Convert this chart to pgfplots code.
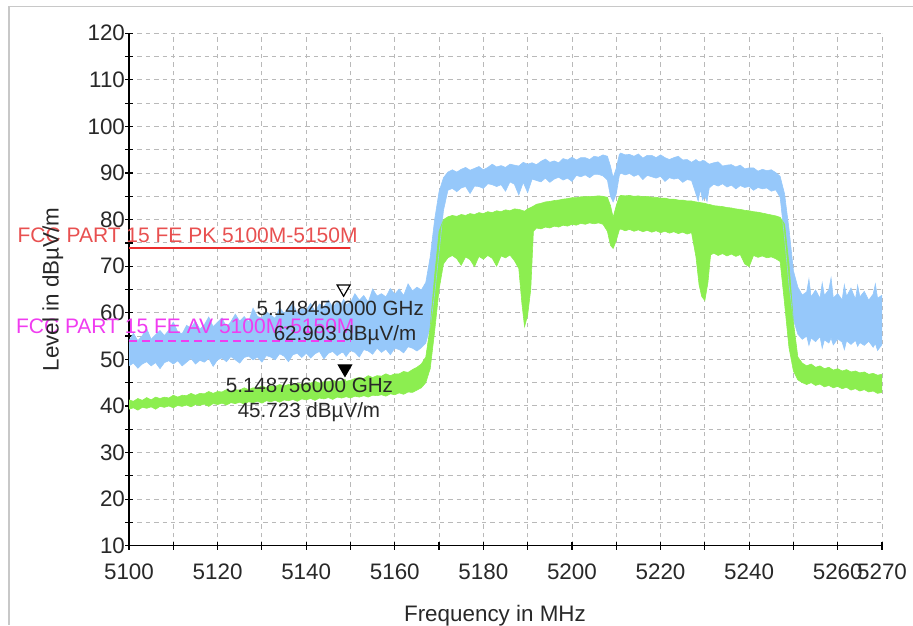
\documentclass[border=0pt]{standalone}
\usepackage{fontspec}
\setmainfont{Liberation Sans}
\usepackage{pgfplots}
\pgfplotsset{compat=1.18}
\usepackage{pgfplotstable}
\usepgfplotslibrary{fillbetween}

\definecolor{pkblue}{RGB}{150,200,250}
\definecolor{avgreen}{RGB}{140,238,80}
\definecolor{limred}{RGB}{235,45,45}
\definecolor{limredtxt}{RGB}{232,80,80}
\definecolor{limmag}{RGB}{240,60,240}
\definecolor{gridgray}{RGB}{185,185,185}
\definecolor{framegray}{RGB}{200,200,200}
\definecolor{tickgray}{RGB}{40,40,40}

% Peak trace (blue): x, lower edge, upper edge of the noise band
\pgfplotstableread{
x lo hi
5100 48.6 54.0
5101 49.2 55.6
5102 48.1 54.0
5103 49.0 55.1
5104 49.5 56.6
5105 48.6 54.3
5106 49.3 55.3
5107 48.0 56.2
5108 49.3 55.1
5109 49.7 56.3
5110 49.0 58.0
5111 49.7 55.9
5112 48.6 55.5
5113 49.4 57.3
5114 50.2 56.7
5115 49.0 58.2
5116 49.8 56.5
5117 49.4 57.4
5118 50.2 59.1
5119 48.5 57.0
5120 49.9 58.0
5121 50.3 58.9
5122 49.5 56.9
5123 50.6 58.1
5124 49.9 59.7
5125 49.2 58.2
5126 50.4 59.2
5127 50.7 58.0
5128 49.9 61.0
5129 50.5 59.2
5130 49.4 58.9
5131 50.8 60.3
5132 50.5 59.5
5133 49.9 58.8
5134 51.2 61.1
5135 50.7 59.9
5136 49.5 60.7
5137 51.0 61.9
5138 51.3 59.9
5139 50.4 61.0
5140 51.3 60.6
5141 50.3 62.0
5142 51.2 60.3
5143 51.7 61.9
5144 50.1 61.3
5145 51.3 62.7
5146 51.7 61.2
5147 50.8 62.3
5148 51.5 62.0
5148.45 51.4 62.9
5149 50.6 61.8
5150 51.9 62.2
5151 51.5 64.1
5152 50.5 62.7
5153 52.1 63.7
5154 51.8 62.3
5155 51.1 65.1
5156 52.4 63.6
5157 51.5 64.1
5158 52.2 63.4
5159 51.0 65.2
5160 52.4 64.0
5161 52.1 65.1
5162 51.4 63.7
5163 52.7 66.2
5164 52.4 64.7
5165 51.8 65.5
5166 52.5 64.9
5167 53.5 66.5
5168 57.0 72.0
5169 64.0 80.0
5170 73.0 86.0
5171 82.0 89.0
5172 86.3 90.2
5173 86.7 90.7
5174 86.0 90.2
5175 86.8 90.8
5176 87.1 91.2
5177 85.6 90.6
5178 87.2 91.0
5179 87.1 91.4
5180 86.7 90.7
5181 87.7 91.2
5182 87.5 91.9
5183 87.1 91.3
5184 87.5 91.6
5185 86.1 91.2
5186 88.1 91.9
5187 87.6 91.7
5188 85.3 91.5
5189 88.0 92.3
5190 85.8 91.9
5191 88.7 92.2
5192 88.4 91.8
5193 88.1 92.5
5194 88.9 93.0
5195 88.0 92.3
5196 88.7 92.6
5197 89.1 92.2
5198 88.5 93.1
5199 88.9 92.8
5200 88.2 93.4
5201 89.5 92.8
5202 89.2 93.3
5203 89.6 93.3
5204 89.0 92.9
5205 89.7 93.6
5206 89.7 93.4
5207 89.4 93.9
5208 88.5 93.6
5208.7 85.0 91.5
5209.3 83.8 89.0
5210 85.5 91.0
5210.7 89.5 94.0
5211 90.0 94.3
5212 89.6 93.9
5213 89.9 94.0
5214 89.3 93.6
5215 89.7 94.1
5216 88.6 93.2
5217 89.5 93.8
5218 89.2 93.8
5219 88.9 93.3
5220 89.3 93.9
5221 88.2 93.3
5222 89.0 92.9
5223 88.7 93.3
5224 88.9 93.6
5225 88.0 92.8
5226 88.6 92.9
5227 88.4 92.3
5228 85.5 92.9
5228.5 84.0 92.5
5229 86.5 92.4
5229.5 84.2 92.7
5230 85.0 92.6
5230.5 83.9 92.2
5231 86.8 91.9
5232 87.6 92.2
5233 87.2 92.4
5234 87.7 91.5
5235 87.0 91.7
5236 87.4 91.8
5237 86.6 91.3
5238 87.3 91.7
5239 86.9 90.9
5240 87.1 91.1
5241 86.3 91.1
5242 86.9 90.4
5243 86.6 90.8
5244 86.8 90.5
5245 86.1 90.7
5246 86.4 90.1
5247 84.8 89.3
5248 76.0 85.5
5249 66.0 78.0
5250 58.5 69.0
5251 55.4 65.5
5252 54.3 63.8
5253 55.0 64.5
5253.5 53.0 67.2
5254 54.6 63.4
5255 53.8 64.9
5256 54.9 63.1
5256.5 52.4 66.4
5257 54.2 63.7
5258 53.5 65.0
5258.5 54.6 67.5
5259 53.1 63.2
5260 54.4 64.1
5261 53.7 62.8
5261.5 52.1 66.0
5262 54.0 63.5
5263 53.2 65.3
5264 54.1 62.9
5264.5 52.8 65.9
5265 53.6 63.4
5266 53.0 64.6
5267 53.9 62.7
5268 52.6 64.0
5268.5 53.4 66.2
5269 51.9 63.1
5270 53.2 63.8
}\pkdata

% Average trace (green): x, lower edge, upper edge of the noise band
\pgfplotstableread{
x lo hi
5100 39.3 41.3
5101 39.6 41.0
5102 39.1 41.6
5103 39.7 41.2
5104 39.5 41.8
5105 39.8 41.3
5106 39.3 41.9
5107 39.9 41.6
5108 39.7 41.9
5109 40.0 41.7
5110 39.6 42.3
5111 40.1 41.9
5112 39.9 42.3
5113 40.2 42.2
5114 39.8 42.7
5115 40.3 42.3
5116 40.1 42.7
5117 40.4 42.6
5118 39.9 43.1
5119 40.5 42.7
5120 40.3 43.1
5121 40.6 43.0
5122 40.2 43.5
5123 40.7 43.1
5124 40.5 43.5
5125 40.8 43.4
5126 40.4 43.9
5127 40.9 43.5
5128 40.7 43.9
5129 41.0 43.8
5130 40.6 44.3
5131 41.1 43.9
5132 40.9 44.3
5133 41.2 44.2
5134 40.8 44.6
5135 41.3 44.3
5136 41.1 44.6
5137 41.4 44.5
5138 41.0 44.9
5139 41.5 44.6
5140 41.3 44.9
5141 41.6 44.9
5142 41.2 45.3
5143 41.7 44.9
5144 41.5 45.2
5145 41.8 45.2
5146 41.4 45.5
5147 41.9 45.2
5148 41.7 45.4
5148.756 41.9 45.723
5149 42.0 45.3
5150 41.7 45.5
5151 42.1 45.9
5152 41.9 46.1
5153 42.2 45.9
5154 41.9 46.5
5155 42.3 46.1
5156 42.2 46.5
5157 42.4 46.4
5158 42.1 46.9
5159 42.6 46.5
5160 42.4 46.9
5161 42.8 46.9
5162 42.5 47.4
5163 43.0 47.2
5164 42.9 47.8
5165 43.4 48.3
5166 43.9 49.0
5167 45.0 50.5
5168 48.0 57.0
5169 56.0 68.0
5170 65.0 77.5
5171 70.5 80.0
5172 71.8 80.6
5173 72.3 80.9
5174 71.6 80.7
5175 70.2 81.1
5176 72.0 80.9
5177 71.4 81.3
5178 69.9 81.1
5179 72.1 81.5
5180 71.5 81.3
5181 72.3 81.7
5182 71.7 81.5
5183 70.0 81.9
5184 72.2 81.7
5185 71.8 82.1
5186 72.4 81.9
5187 71.2 82.3
5188 69.5 82.2
5188.7 62.0 82.0
5189.3 57.0 81.8
5190 59.5 82.3
5190.7 65.0 82.6
5191.3 77.5 82.9
5192 78.2 83.3
5193 78.0 83.5
5194 78.4 83.8
5195 78.2 83.9
5196 78.6 84.1
5197 78.4 84.2
5198 78.8 84.4
5199 78.6 84.5
5200 79.0 84.7
5201 78.8 84.7
5202 79.2 84.9
5203 79.0 84.9
5204 79.3 85.0
5205 79.1 85.0
5206 79.3 85.1
5207 79.0 85.0
5208 77.5 84.8
5208.7 74.5 83.0
5209.3 73.8 80.5
5210 75.5 83.0
5210.7 77.8 85.0
5211 78.0 85.2
5212 77.6 85.1
5213 77.9 85.2
5214 77.5 85.0
5215 77.8 85.1
5216 77.4 84.9
5217 77.7 85.0
5218 77.3 84.8
5219 77.6 84.8
5220 77.2 84.6
5221 77.5 84.6
5222 77.1 84.4
5223 77.4 84.4
5224 77.0 84.2
5225 77.3 84.2
5226 76.9 84.0
5227 77.2 84.0
5228 72.0 83.8
5228.7 66.0 83.7
5229.3 63.5 83.6
5230 62.6 83.5
5230.7 66.5 83.3
5231.3 72.4 83.2
5232 72.8 83.0
5233 72.3 82.9
5234 72.7 82.8
5235 72.2 82.6
5236 72.6 82.5
5237 72.1 82.3
5238 72.5 82.2
5239 70.5 82.0
5240 69.9 81.9
5241 72.3 81.7
5242 71.9 81.6
5243 72.2 81.4
5244 71.8 81.2
5245 72.0 81.0
5246 71.6 80.8
5247 71.0 80.5
5248 62.0 79.0
5249 52.5 70.5
5250 47.5 58.0
5251 45.6 50.5
5252 45.0 49.2
5253 44.6 48.6
5254 45.0 49.0
5255 44.4 48.3
5256 44.7 48.6
5257 44.1 48.0
5258 44.4 48.3
5259 43.9 47.7
5260 44.2 48.0
5261 43.7 47.5
5262 44.0 47.8
5263 43.4 47.3
5264 43.7 47.5
5265 43.2 47.1
5266 43.5 47.3
5267 43.0 46.8
5268 43.2 47.0
5269 42.7 46.6
5270 42.9 46.8
}\avdata

\begin{document}
\begin{tikzpicture}
\begin{axis}[
  at={(64.5pt,39.65pt)}, anchor=south west,
  scale only axis, width=376.5pt, height=256.2pt,
  xmin=5100, xmax=5270, ymin=10, ymax=120,
  axis x line*=bottom, axis y line*=left,
  axis line style={black, line width=0.7pt, -},
  xtick={5100,5120,...,5260,5270},
  minor xtick={5110,5130,...,5250},
  ytick={10,20,...,120},
  minor ytick={15,25,...,115},
  tick align=center,
  major tick length=4pt, minor tick length=4pt,
  tick style={black, line width=0.6pt},
  grid=both,
  major grid style={gridgray, dash pattern=on 2.2pt off 2pt, line width=0.45pt},
  minor grid style={gridgray, dash pattern=on 2.2pt off 2pt, line width=0.45pt},
  tick label style={font=\fontsize{11.2}{13}\selectfont, text=tickgray},
  xticklabel style={yshift=-3.5pt},
  yticklabel style={xshift=3.5pt},
  /pgf/number format/assume math mode=true,
  /pgf/number format/1000 sep={},
  xlabel={Frequency in MHz}, ylabel={Level in dBµV/m},
  label style={font=\fontsize{11.2}{13}\selectfont, text=tickgray},
  xlabel style={at={(axis description cs:0.486,-0.1484)}, anchor=base},
  ylabel style={at={(axis description cs:-0.101,0.5)}, anchor=center},
  clip=false,
]
% peak trace
\addplot[name path=pkhi, draw=pkblue, line width=0.3pt] table[x=x,y=hi]{\pkdata};
\addplot[name path=pklo, draw=pkblue, line width=0.3pt] table[x=x,y=lo]{\pkdata};
\addplot[fill=pkblue, draw=none] fill between[of=pkhi and pklo];
% average trace
\addplot[name path=avhi, draw=avgreen, line width=0.3pt] table[x=x,y=hi]{\avdata};
\addplot[name path=avlo, draw=avgreen, line width=0.3pt] table[x=x,y=lo]{\avdata};
\addplot[fill=avgreen, draw=none] fill between[of=avhi and avlo];
% limit lines
\addplot[limred, line width=1pt] coordinates {(5100,74) (5150,74)};
\addplot[limmag, line width=0.8pt, dash pattern=on 4pt off 2.5pt] coordinates {(5100,54) (5150,54)};
\node[anchor=base east, inner sep=0, text=limredtxt, font=\fontsize{10.5}{12}\selectfont] at (axis cs:5151.7,75.16) {FCC PART 15 FE PK 5100M-5150M};
\node[anchor=base east, inner sep=0, text=limmag, font=\fontsize{10.5}{12}\selectfont] at (axis cs:5151.0,55.47) {FCC PART 15 FE AV 5100M-5150M};
% markers
\addplot[only marks, mark=triangle, mark size=3.77pt, mark options={draw=black, fill=white, line width=0.6pt, yshift=5.28pt, rotate=180}] coordinates {(5148.45,62.903)};
\addplot[only marks, mark=triangle*, mark size=3.77pt, mark options={draw=black, fill=black, line width=0.6pt, yshift=5.28pt, rotate=180}] coordinates {(5148.756,45.723)};
\node[anchor=base, inner sep=0, text=tickgray, font=\fontsize{10.3}{12}\selectfont] at (axis cs:5147.7,59.41) {5.148450000 GHz};
\node[anchor=base, inner sep=0, text=tickgray, font=\fontsize{10.3}{12}\selectfont] at (axis cs:5148.76,54.03) {62.903 dBµV/m};
\node[anchor=base, inner sep=0, text=tickgray, font=\fontsize{10.3}{12}\selectfont] at (axis cs:5140.74,42.93) {5.148756000 GHz};
\node[anchor=base, inner sep=0, text=tickgray, font=\fontsize{10.3}{12}\selectfont] at (axis cs:5140.63,37.55) {45.723 dBµV/m};
\end{axis}
\pgfresetboundingbox
\path[use as bounding box] (0,0) rectangle (456.5pt,312.5pt);
\draw[framegray, line width=0.8pt] (4.5pt,0) -- (4.5pt,309.2pt) -- (456.5pt,309.2pt);
\end{tikzpicture}
\end{document}
